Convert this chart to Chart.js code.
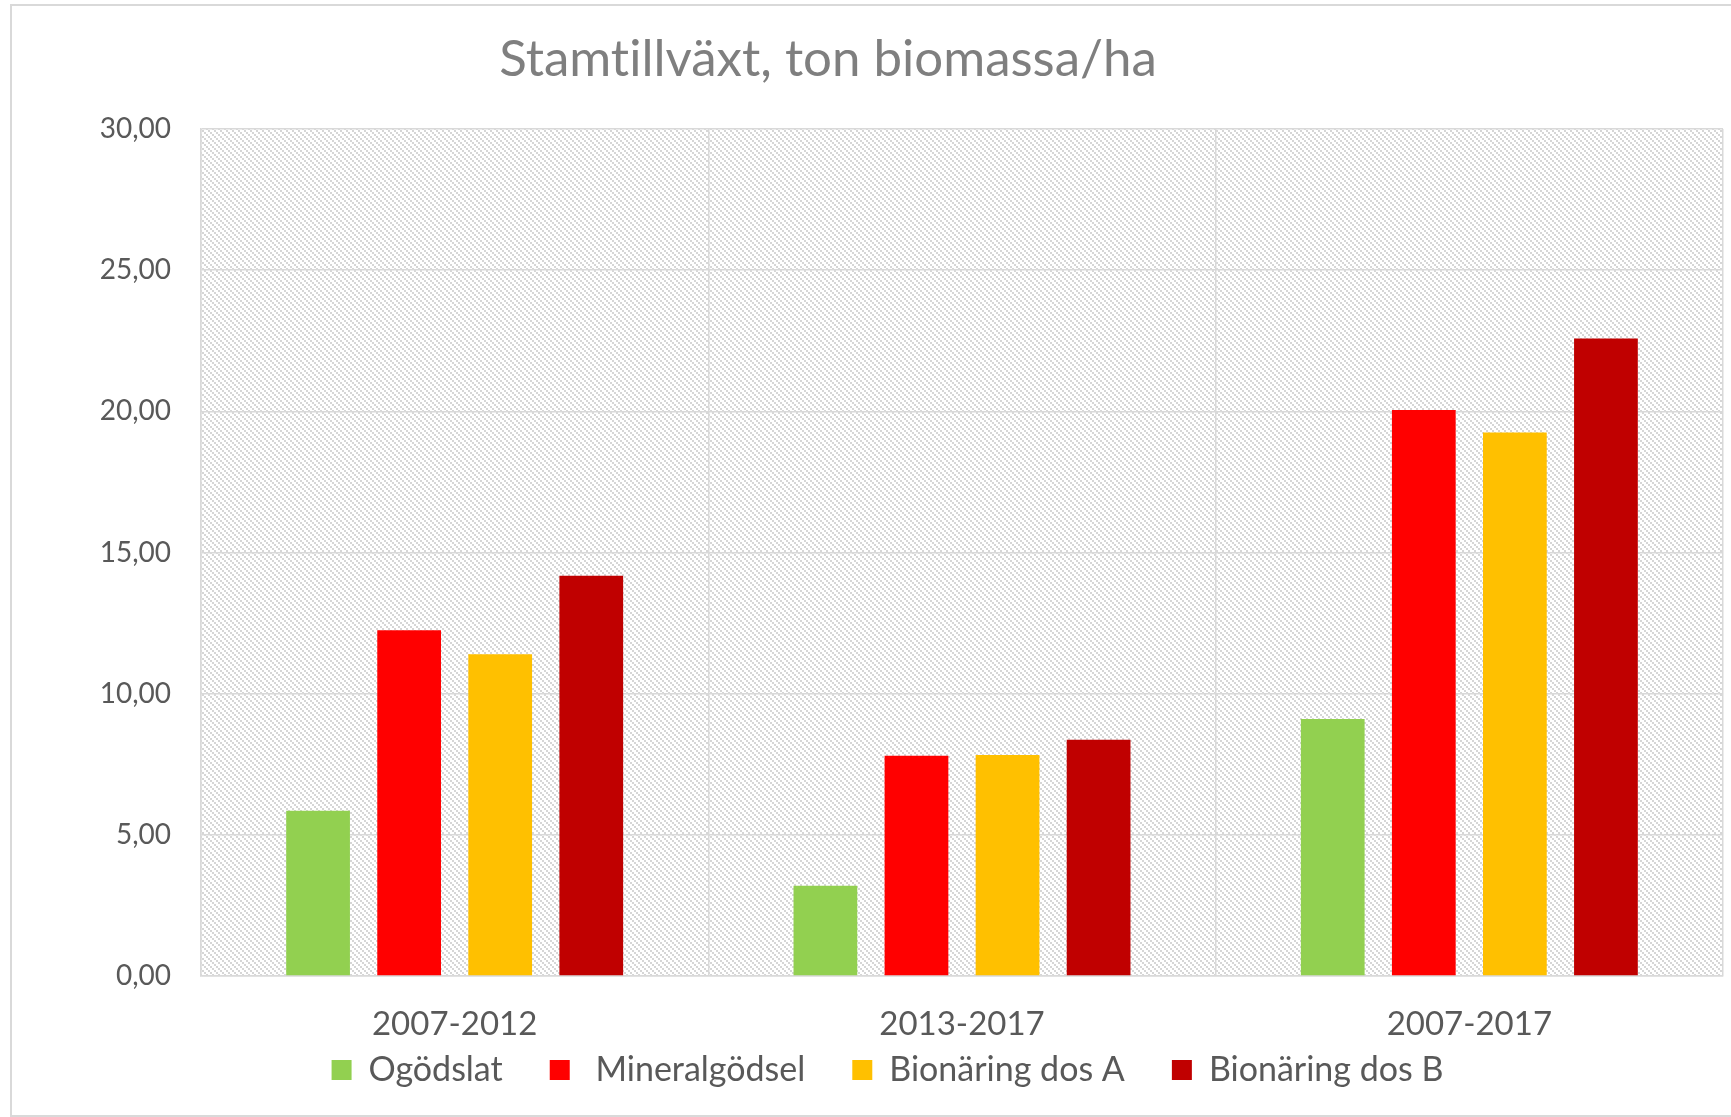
<!DOCTYPE html>
<html>
<head>
<meta charset="utf-8">
<script src="https://cdn.jsdelivr.net/npm/chart.js@4.4.1/dist/chart.umd.min.js"></script>
<style>
  html, body { margin: 0; padding: 0; background: #ffffff; overflow: hidden; }
  #wrap { position: relative; width: 1731px; height: 1117px; }
  #frame { position: absolute; left: 10px; top: 4px; right: -10px; bottom: 0px; border: 2px solid #d9d9d9; box-sizing: border-box; pointer-events: none; }
  #title { position: absolute; left: 828px; top: 26px; transform: translateX(-50%); white-space: nowrap;
           font-family: Lato, "Open Sans", sans-serif; font-size: 51px; line-height: 1.2; color: #7f7f7f;
           font-variant-ligatures: none; font-feature-settings: "liga" 0, "clig" 0; }
  canvas { position: absolute; left: 0; top: 0; }
</style>
</head>
<body>
<div id="wrap">
  <canvas id="c" width="1731" height="1117"></canvas>
  <div id="frame"></div>
  <div id="title">Stamtillväxt, ton biomassa/ha</div>
</div>
<script>
const categories = ['2007-2012', '2013-2017', '2007-2017'];
const seriesNames = ['Ogödslat', ' Mineralgödsel', 'Bionäring dos A', 'Bionäring dos B'];
const ogodslat = [5.85, 3.2, 9.1];
const mineralgodsel = [12.25, 7.8, 20.05];
const bionaringA = [11.4, 7.83, 19.25];
const bionaringB = [14.18, 8.37, 22.58];
const seriesColors = ['#92D050', '#FF0000', '#FFC000', '#C00000'];
const yTicks = [0, 5, 10, 15, 20, 25, 30];

const seriesValues = [ogodslat, mineralgodsel, bionaringA, bionaringB];

function makePattern() {
  const p = document.createElement('canvas');
  p.width = 6; p.height = 6;
  const g = p.getContext('2d');
  g.fillStyle = '#ffffff';
  g.fillRect(0, 0, 6, 6);
  g.fillStyle = '#d6d6d6';
  g.fillRect(0, 0, 2, 2);
  g.fillRect(2, 2, 2, 2);
  g.fillRect(4, 4, 2, 2);
  return document.getElementById('c').getContext('2d').createPattern(p, 'repeat');
}

const hatchPlugin = {
  id: 'hatch',
  beforeDraw(chart) {
    const a = chart.chartArea;
    const ctx = chart.ctx;
    ctx.save();
    ctx.fillStyle = makePattern();
    ctx.fillRect(a.left, a.top, a.right - a.left, a.bottom - a.top);
    ctx.restore();
  }
};

const gridColor = '#d9d9d9';

new Chart(document.getElementById('c'), {
  type: 'bar',
  data: {
    labels: categories,
    datasets: seriesNames.map((n, i) => ({
      label: n,
      data: seriesValues[i],
      backgroundColor: seriesColors[i],
      borderWidth: 0,
      categoryPercentage: 0.718,
      barPercentage: 0.70
    }))
  },
  options: {
    responsive: false,
    animation: false,
    devicePixelRatio: 1,
    layout: { padding: { left: 52, right: 8, top: 129, bottom: 20 } },
    plugins: {
      title: { display: false },
      tooltip: { enabled: false },
      legend: {
        position: 'bottom',
        labels: {
          boxWidth: 20,
          boxHeight: 20,
          padding: 47,
          color: '#595959',
          font: { family: 'Lato', size: 34 }
        }
      }
    },
    scales: {
      x: {
        grid: { display: true, color: gridColor, lineWidth: 1.5, drawTicks: false, offset: true },
        border: { display: true, color: gridColor, width: 1.5 },
        ticks: { color: '#595959', font: { family: 'Lato', size: 33 }, padding: 29 },
        afterFit(scale) {
          scale.height = 30;
          scale._computeLabelArea = () => undefined;
        }
      },
      y: {
        min: 0,
        max: 30,
        afterBuildTicks(scale) { scale.ticks = yTicks.map(v => ({ value: v })); },
        grid: { color: gridColor, lineWidth: 1.5, drawTicks: false },
        border: { display: true, color: gridColor, width: 1.5 },
        ticks: {
          color: '#595959',
          font: { family: 'Lato', size: 28 },
          padding: 30,
          callback: v => v.toFixed(2).replace('.', ',')
        },
        afterFit(scale) { scale.width = 149; }
      }
    }
  },
  plugins: [hatchPlugin]
});
</script>
</body>
</html>
